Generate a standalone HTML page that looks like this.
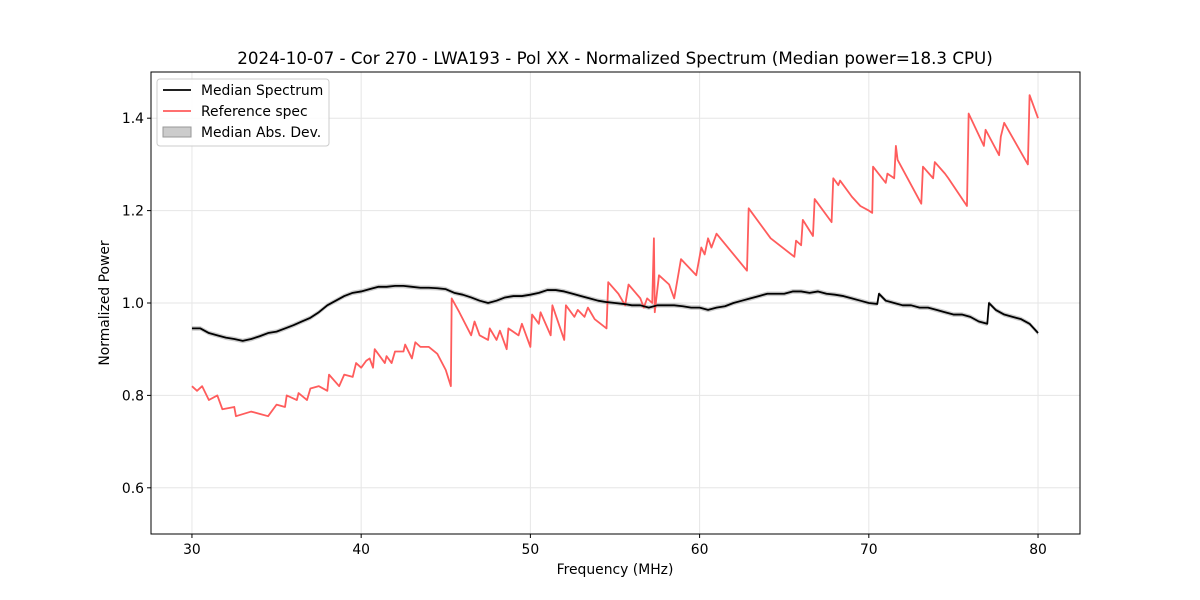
<!DOCTYPE html>
<html><head><meta charset="utf-8"><style>
body{margin:0;background:#fff;}
svg{display:block;font-family:"DejaVu Sans","Liberation Sans",sans-serif;}
</style></head><body>
<svg id="chart" width="1200" height="600">
<rect width="1200" height="600" fill="#fff"/>
<text x="615" y="64" text-anchor="middle" font-size="16.7">2024-10-07 - Cor 270 - LWA193 - Pol XX - Normalized Spectrum (Median power=18.3 CPU)</text>
<g id="grid"></g>
<g id="marks"></g>
<rect x="151" y="72" width="929" height="462" fill="none" stroke="#000" stroke-width="1"/>
<g id="ticks"></g>
<text x="615" y="574" text-anchor="middle" font-size="13.9">Frequency (MHz)</text>
<text transform="translate(109,303) rotate(-90)" text-anchor="middle" font-size="13.9">Normalized Power</text>
<g>
<rect x="157" y="79" width="172" height="67" rx="3" fill="#fff" fill-opacity="0.85" stroke="#ccc"/>
<g><line x1="163" y1="90" x2="191" y2="90" stroke="#000" stroke-width="1.8"/><text x="201" y="95" font-size="13.9">Median Spectrum</text></g>
<g><line x1="163" y1="111" x2="191" y2="111" stroke="#ff5c5c" stroke-width="1.8"/><text x="201" y="116" font-size="13.9">Reference spec</text></g>
<g><rect x="163" y="127" width="28" height="10" fill="#ccc" stroke="#999"/><text x="201" y="137" font-size="13.9">Median Abs. Dev.</text></g>
</g>
</svg>
<script>
const medFreq=[30,30.5,31,31.5,32,32.5,33,33.5,34,34.5,35,35.5,36,36.5,37,37.5,38,38.5,39,39.5,40,40.5,41,41.5,42,42.5,43,43.5,44,44.5,45,45.5,46,46.5,47,47.5,48,48.5,49,49.5,50,50.5,51,51.5,52,52.5,53,53.5,54,54.5,55,55.5,56,56.5,57,57.5,58,58.5,59,59.5,60,60.5,61,61.5,62,62.5,63,63.5,64,64.5,65,65.5,66,66.5,67,67.5,68,68.5,69,69.5,70,70.5,70.6,71,71.5,72,72.5,73,73.5,74,74.5,75,75.5,76,76.5,77,77.1,77.5,78,78.5,79,79.5,80];
const medVal=[0.945,0.945,0.935,0.93,0.925,0.922,0.918,0.922,0.928,0.935,0.938,0.945,0.952,0.96,0.968,0.98,0.995,1.005,1.015,1.022,1.025,1.03,1.035,1.035,1.037,1.037,1.035,1.033,1.033,1.032,1.03,1.022,1.018,1.012,1.005,1.0,1.005,1.012,1.015,1.015,1.018,1.022,1.028,1.028,1.025,1.02,1.015,1.01,1.005,1.002,1.0,0.998,0.995,0.995,0.99,0.995,0.995,0.995,0.993,0.99,0.99,0.985,0.99,0.993,1.0,1.005,1.01,1.015,1.02,1.02,1.02,1.025,1.025,1.022,1.025,1.02,1.018,1.015,1.01,1.005,1.0,0.998,1.02,1.005,1.0,0.995,0.995,0.99,0.99,0.985,0.98,0.975,0.975,0.97,0.96,0.955,1.0,0.985,0.975,0.97,0.965,0.955,0.935];
const madVal=0.005;
const refFreq=[30,30.3,30.6,31,31.5,31.8,32.5,32.6,33.5,34,34.5,35,35.5,35.6,36.2,36.3,36.8,37,37.5,38,38.1,38.7,39,39.5,39.7,40,40.3,40.5,40.7,40.8,41.4,41.5,41.8,42,42.5,42.6,43,43.2,43.5,44,44.5,45,45.3,45.35,45.8,46.5,46.7,47,47.5,47.6,48,48.2,48.6,48.7,49.3,49.5,50,50.1,50.5,50.6,51.2,51.3,52,52.1,52.6,52.8,53.2,53.4,53.8,54.5,54.6,55.2,55.6,55.8,56.5,56.7,56.9,57.2,57.3,57.35,57.6,58.2,58.5,58.9,59.8,60.1,60.3,60.5,60.7,61,62.8,62.9,64.2,65.6,65.7,66.0,66.1,66.7,66.8,67.8,67.9,68.2,68.3,69,69.5,70,70.2,70.25,71,71.1,71.5,71.6,71.7,73.1,73.2,73.8,73.9,74.5,74.7,75.8,75.9,76.8,76.9,77.7,77.8,78,79.4,79.5,80];
const refVal=[0.82,0.81,0.82,0.79,0.80,0.77,0.775,0.755,0.765,0.76,0.755,0.78,0.775,0.80,0.79,0.805,0.79,0.815,0.82,0.81,0.845,0.82,0.845,0.84,0.87,0.86,0.875,0.88,0.86,0.9,0.87,0.885,0.87,0.895,0.895,0.91,0.88,0.915,0.905,0.905,0.89,0.855,0.82,1.01,0.98,0.93,0.96,0.93,0.92,0.945,0.92,0.94,0.9,0.945,0.93,0.955,0.905,0.975,0.955,0.98,0.93,0.995,0.92,0.995,0.97,0.985,0.97,0.99,0.965,0.945,1.045,1.02,0.995,1.04,1.01,0.99,1.01,1.0,1.14,0.98,1.06,1.04,1.01,1.095,1.06,1.12,1.105,1.14,1.12,1.15,1.07,1.205,1.14,1.1,1.135,1.125,1.18,1.145,1.225,1.175,1.27,1.255,1.265,1.23,1.21,1.2,1.195,1.295,1.26,1.28,1.27,1.34,1.31,1.215,1.295,1.27,1.305,1.28,1.27,1.21,1.41,1.34,1.375,1.32,1.36,1.39,1.3,1.45,1.4];
const xTicks=[30,40,50,60,70,80];
const yTicks=[0.6,0.8,1.0,1.2,1.4];
const yTickLabels=["0.6","0.8","1.0","1.2","1.4"];

const X0=151,X1=1080,Y0=534,Y1=72,xMin=27.58,xMax=82.48,yMin=0.5,yMax=1.5;
const sx=v=>X0+(v-xMin)/(xMax-xMin)*(X1-X0);
const sy=v=>Y0-(v-yMin)/(yMax-yMin)*(Y0-Y1);
const NS="http://www.w3.org/2000/svg";
const grid=document.getElementById('grid'),marks=document.getElementById('marks'),ticks=document.getElementById('ticks');
function mk(t,a,p){const e=document.createElementNS(NS,t);for(const k in a)e.setAttribute(k,a[k]);p.appendChild(e);return e;}
xTicks.forEach(v=>{const x=sx(v);
 const g=mk('line',{x1:x,x2:x,y1:Y1,y2:Y0,stroke:'#e6e6e6'},grid);
 
 
 const t=mk('line',{x1:x,x2:x,y1:Y0,y2:Y0+4,stroke:'#000'},ticks);
 
 
 const l=mk('text',{x:x,y:Y0+20,'text-anchor':'middle','font-size':'13.9'},ticks);l.textContent=v;
 
 
});
yTicks.forEach((v,i)=>{const y=sy(v);
 const g=mk('line',{x1:X0,x2:X1,y1:y,y2:y,stroke:'#e6e6e6'},grid);
 
 
 const t=mk('line',{x1:X0-4,x2:X0,y1:y,y2:y,stroke:'#000'},ticks);
 
 
 const l=mk('text',{x:X0-7,y:y+5,'text-anchor':'end','font-size':'13.9'},ticks);l.textContent=yTickLabels[i];
 
 
});
let band='M'+medFreq.map((f,i)=>sx(f)+','+sy(medVal[i]+madVal)).join('L');
band+='L'+medFreq.slice().reverse().map((f,j)=>{const i=medFreq.length-1-j;return sx(f)+','+sy(medVal[i]-madVal);}).join('L')+'Z';
const b=mk('path',{d:band,fill:'#aaa','fill-opacity':'0.6',stroke:'none'},marks);


const r=mk('path',{d:'M'+refFreq.map((f,i)=>sx(f)+','+sy(refVal[i])).join('L'),fill:'none',stroke:'#ff5c5c','stroke-width':'1.8','stroke-linejoin':'round'},marks);


const m=mk('path',{d:'M'+medFreq.map((f,i)=>sx(f)+','+sy(medVal[i])).join('L'),fill:'none',stroke:'#000','stroke-width':'1.8','stroke-linejoin':'round'},marks);


</script>
</body></html>
